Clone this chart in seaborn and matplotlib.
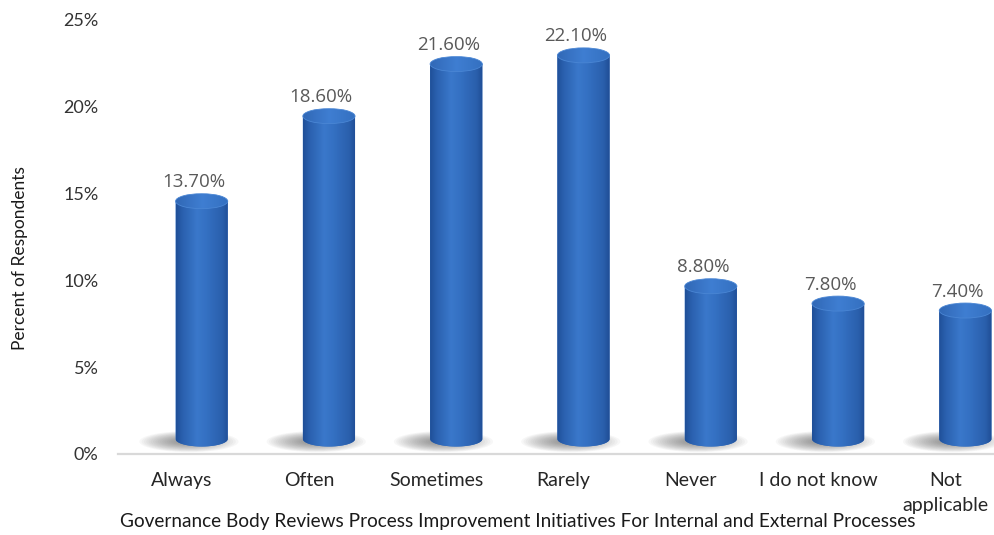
import numpy as np
import pandas as pd
import seaborn as sns
import matplotlib
matplotlib.use("Agg")
import matplotlib.pyplot as plt
from matplotlib import transforms
from matplotlib.patches import Ellipse, Polygon
from matplotlib.colors import LinearSegmentedColormap

# Survey responses
categories = ["Always", "Often", "Sometimes", "Rarely", "Never",
              "I do not know", "Not\napplicable"]
percents = [13.7, 18.6, 21.6, 22.1, 8.8, 7.8, 7.4]
y_ticks = [0, 5, 10, 15, 20, 25]
y_tick_labels = ["0%", "5%", "10%", "15%", "20%", "25%"]

sns.set_theme(style="white")
plt.rcParams["font.family"] = ["Lato", "DejaVu Sans"]

W, H = 995, 535
fig = plt.figure(figsize=(W / 100, H / 100), dpi=100)
ax = fig.add_axes([118 / W, 81 / H, 891 / W, 434 / H])

df = pd.DataFrame({"response": categories, "pct": percents})
sns.barplot(data=df, x="response", y="pct", ax=ax, width=0.41,
            color="#2E6BC0", saturation=1, errorbar=None, zorder=3)

ax.set_xlim(-0.5, 6.5)
ax.set_ylim(0, 25)
ax.set_yticks(y_ticks)
ax.set_yticklabels(y_tick_labels, fontsize=13, color="#333333")
ax.tick_params(axis="y", length=0, pad=14)
ax.tick_params(axis="x", length=0, pad=13, labelsize=14, labelcolor="#262626")
for lbl in ax.get_xticklabels():
    lbl.set_linespacing(1.6)
ax.set_xlabel("")
ax.set_ylabel("")
for side in ("top", "right", "left"):
    ax.spines[side].set_visible(False)
ax.spines["bottom"].set_color("#D9D9D9")
ax.spines["bottom"].set_linewidth(1.6)
ax.grid(False)

# 3-D look: bars sit slightly behind the category axis
depth = transforms.offset_copy(ax.transData, fig=fig, x=20, y=15, units="dots")
label_tr = transforms.offset_copy(ax.transData, fig=fig, x=12, y=34, units="dots")

fig.canvas.draw()
px_per_unit = ax.transData.transform((0, 1))[1] - ax.transData.transform((0, 0))[1]
cap_h = 15 / px_per_unit  # ellipse height in data units

body_cmap = LinearSegmentedColormap.from_list(
    "body", [(0.0, "#1F4F98"), (0.12, "#2A60AE"), (0.4, "#3A78CB"),
             (0.58, "#3470C2"), (0.88, "#2A5FAC"), (1.0, "#1F4D94")])
cap_cmap = LinearSegmentedColormap.from_list(
    "cap", [(0.0, "#3168B6"), (0.5, "#3F7ED2"), (1.0, "#3470C0")])

grad = np.linspace(0, 1, 256).reshape(1, -1)

for patch, value in zip(ax.patches, percents):
    x0 = patch.get_x()
    w = patch.get_width()
    h = patch.get_height()
    cx = x0 + w / 2
    patch.set_transform(depth)
    patch.set_visible(False)

    # soft base shadow, cast towards the lower left
    for k in range(18):
        f = 1 - k / 20
        sh = Ellipse((cx - 0.1 - 0.03 * (1 - f), -0.15), width=w * 1.9 * f,
                     height=cap_h * 1.4 * f,
                     transform=depth, facecolor="#505050", edgecolor="none",
                     alpha=0.045, zorder=2)
        ax.add_patch(sh)

    # cylinder body outline: straight sides, rounded bottom
    theta = np.linspace(np.pi, 2 * np.pi, 60)
    bx = cx + (w / 2) * np.cos(theta)
    by = (cap_h / 2) * np.sin(theta)
    verts = np.vstack([np.column_stack([bx, by]), [[x0 + w, h], [x0, h]]])
    body = Polygon(verts, closed=True, transform=depth, facecolor="#2E6BC0",
                   edgecolor="none", zorder=3)
    ax.add_patch(body)
    im = ax.imshow(grad, cmap=body_cmap, aspect="auto",
                   extent=[x0, x0 + w, -cap_h, h], transform=depth,
                   zorder=3.1, interpolation="bilinear")
    im.set_clip_path(body)

    # top cap
    cap = Ellipse((cx, h), width=w, height=cap_h, transform=depth,
                  facecolor="none", edgecolor="#4A86D4", linewidth=0.6,
                  zorder=3.4)
    ax.add_patch(cap)
    imc = ax.imshow(grad, cmap=cap_cmap, aspect="auto",
                    extent=[x0, x0 + w, h - cap_h / 2, h + cap_h / 2],
                    transform=depth, zorder=3.2, interpolation="bilinear")
    imc.set_clip_path(cap)

    ax.text(cx, h, f"{value:.2f}%", transform=label_tr, ha="center", va="center",
            fontsize=13.5, color="#595959", family=["Open Sans", "DejaVu Sans"],
            zorder=5)

ax.set_xlim(-0.5, 6.5)
ax.set_ylim(0, 25)

fig.text(20 / W, 1 - 258 / H, "Percent of Respondents", rotation=90,
         ha="center", va="center", fontsize=12.5, color="#1A1A1A")
fig.text(518 / W, 1 - 522 / H,
         "Governance Body Reviews Process Improvement Initiatives For Internal and External Processes",
         ha="center", va="center", fontsize=13.7, color="#1A1A1A")

fig.savefig("out.png", dpi=100)
